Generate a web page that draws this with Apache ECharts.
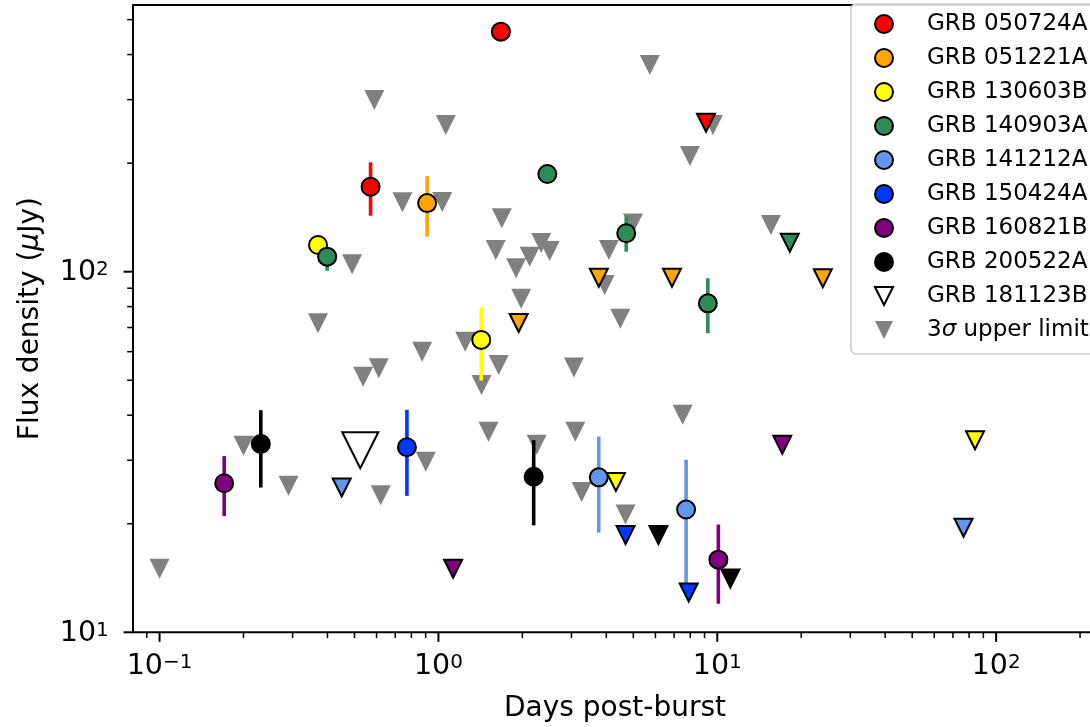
<!DOCTYPE html>
<html>
<head>
<meta charset="utf-8">
<script src="https://cdn.jsdelivr.net/npm/echarts@6/dist/echarts.min.js"></script>
<style>
html, body { margin: 0; padding: 0; background: #ffffff; }
#chart { width: 1090px; height: 727px; }
</style>
</head>
<body>
<div id="chart"></div>
<script>
// ---------- axis ranges, ticks and tick labels ----------
const X_MIN = 0.0803, X_MAX = 230;
const Y_MIN = 10, Y_MAX = 549;
const xMajorTicks = [0.1, 1, 10, 100];
const xTickLabelBase = ['10', '10', '10', '10'];
const xTickLabelExp  = ['\u22121', '0', '1', '2'];
const xMinorTicks = [0.09, 0.2, 0.3, 0.4, 0.5, 0.6, 0.7, 0.8, 0.9,
                     2, 3, 4, 5, 6, 7, 8, 9,
                     20, 30, 40, 50, 60, 70, 80, 90, 200];
const yMajorTicks = [10, 100];
const yTickLabelBase = ['10', '10'];
const yTickLabelExp  = ['1', '2'];
const yMinorTicks = [20, 30, 40, 50, 60, 70, 80, 90, 200, 300, 400, 500];

// ---------- data: detections [days, flux, fluxLow, fluxHigh], upper limits [days, flux] ----------
const GRB_050724A_det = [[1.675, 463, null, null], [0.571, 172, 143, 201]];
const GRB_050724A_ul  = [[9.11, 259]];

const GRB_051221A_det = [[0.911, 155, 125, 184]];
const GRB_051221A_ul  = [[1.94, 72.1], [3.76, 96.2], [6.88, 96.2], [23.9, 95.9]];

const GRB_130603B_det = [[0.370, 118.6, 112, 125.6], [1.424, 64.7, 49.9, 79.6]];
const GRB_130603B_ul  = [[4.33, 26.1], [84.0, 34.1]];

const GRB_140903A_det = [[0.399, 110.1, 100.6, 114.9], [2.458, 186.6, null, null],
                         [4.715, 127.8, 113.6, 142.1], [9.25, 81.7, 67.5, 95.9]];
const GRB_140903A_ul  = [[18.2, 120.3]];

const GRB_141212A_det = [[3.758, 26.9, 18.9, 34.9], [7.73, 21.9, 13.3, 30.1]];
const GRB_141212A_ul  = [[0.450, 25.2], [76.4, 19.5]];

const GRB_150424A_det = [[0.771, 32.6, 23.9, 41.4]];
const GRB_150424A_ul  = [[4.69, 18.6], [7.90, 12.9]];

const GRB_160821B_det = [[0.1705, 25.9, 21.0, 30.8], [10.09, 15.9, 12.0, 19.9]];
const GRB_160821B_ul  = [[1.129, 15.0], [17.1, 33.1]];

const GRB_200522A_det = [[0.2307, 33.3, 25.2, 41.3], [2.196, 27.0, 19.8, 34.1]];
const GRB_200522A_ul  = [[6.15, 18.6], [11.14, 14.1]];

const GRB_181123B_ul  = [[0.5245, 32.0]];

const upperLimits3sigma = [
  [0.100, 15.0], [0.200, 32.9], [0.290, 25.5], [0.370, 71.9], [0.490, 104.8],
  [0.537, 51.1], [0.611, 54.0], [0.589, 299.4], [0.621, 24.0], [0.743, 155.8],
  [0.901, 29.7], [0.874, 60.0], [1.032, 156.1], [1.063, 255.2], [1.247, 63.9],
  [1.427, 48.5], [1.512, 36.0], [1.605, 114.9], [1.645, 55.1], [1.688, 140.6],
  [1.900, 102.2], [1.981, 84.2], [2.125, 110.1], [2.336, 120.1], [2.505, 114.1],
  [2.250, 33.1], [3.062, 54.2], [3.097, 36.0], [3.262, 24.5], [3.944, 91.9],
  [4.086, 114.9], [4.491, 74.1], [4.688, 21.2], [4.987, 136.0], [5.728, 374.3],
  [7.51, 40.1], [7.98, 209.4], [9.65, 255.2], [15.57, 134.8]
];

const legendNames = ['GRB 050724A', 'GRB 051221A', 'GRB 130603B', 'GRB 140903A',
  'GRB 141212A', 'GRB 150424A', 'GRB 160821B', 'GRB 200522A', 'GRB 181123B', '3σ upper limit'];

// ---------- styling ----------
const FONT = 'DejaVu Sans';
const TRI_DOWN = 'path://M0,0L10,0L5,10Z';
const grbs = [
  { name: 'GRB 050724A', color: '#ff0000', det: GRB_050724A_det, ul: GRB_050724A_ul },
  { name: 'GRB 051221A', color: '#ffa500', det: GRB_051221A_det, ul: GRB_051221A_ul },
  { name: 'GRB 130603B', color: '#ffff00', det: GRB_130603B_det, ul: GRB_130603B_ul },
  { name: 'GRB 140903A', color: '#2e8b57', det: GRB_140903A_det, ul: GRB_140903A_ul },
  { name: 'GRB 141212A', color: '#6495ed', det: GRB_141212A_det, ul: GRB_141212A_ul },
  { name: 'GRB 150424A', color: '#0038ff', det: GRB_150424A_det, ul: GRB_150424A_ul },
  { name: 'GRB 160821B', color: '#800080', det: GRB_160821B_det, ul: GRB_160821B_ul },
  { name: 'GRB 200522A', color: '#000000', det: GRB_200522A_det, ul: GRB_200522A_ul }
];

const BASE_FS = 28.5, SUP_FS = 20;
const BASE_FONT = BASE_FS + 'px "DejaVu Sans"';
const SUP_FONT = SUP_FS + 'px "DejaVu Sans"';
const measureCtx = document.createElement('canvas').getContext('2d');
function textWidth(t, font) { measureCtx.font = font; return measureCtx.measureText(t).width; }

function txt(x, y, text, font, align) {
  return {
    type: 'text', x: x, y: y, silent: true,
    style: { text: text, font: font, fill: '#000',
             align: align, verticalAlign: 'middle',
             textAlign: align, textVerticalAlign: 'middle' }
  };
}

const series = [];

// gray 3-sigma upper limits (drawn first / lowest)
series.push({
  name: '3σ upper limit', type: 'scatter', z: 1,
  symbol: TRI_DOWN, symbolSize: 20,
  itemStyle: { color: '#808080', opacity: 1 },
  data: upperLimits3sigma
});

// error bars
grbs.forEach(g => {
  const withErr = g.det.filter(d => d[2] !== null);
  series.push({
    type: 'custom', z: 2, silent: true, clip: false,
    data: withErr,
    encode: { x: 0, y: 1 },
    renderItem: (params, api) => {
      const x = api.value(0);
      const p1 = api.coord([x, api.value(2)]);
      const p2 = api.coord([x, api.value(3)]);
      return { type: 'line', shape: { x1: p1[0], y1: p1[1], x2: p2[0], y2: p2[1] },
               style: { stroke: g.color, lineWidth: 3.6 } };
    }
  });
});

// detections (circles) and colored upper limits (triangles)
grbs.forEach(g => {
  series.push({
    name: g.name, type: 'scatter', z: 3,
    symbol: 'circle', symbolSize: 18,
    itemStyle: { color: g.color, borderColor: '#000', borderWidth: 2, opacity: 1 },
    data: g.det.map(d => [d[0], d[1]])
  });
});
grbs.forEach(g => {
  series.push({
    name: g.name, type: 'scatter', z: 3,
    symbol: TRI_DOWN, symbolSize: 18,
    itemStyle: { color: g.color, borderColor: '#000', borderWidth: 2, opacity: 1 },
    data: g.ul
  });
});
series.push({
  name: 'GRB 181123B', type: 'scatter', z: 3,
  symbol: TRI_DOWN, symbolSize: 36,
  itemStyle: { color: '#ffffff', borderColor: '#000', borderWidth: 2, opacity: 1 },
  data: GRB_181123B_ul
});

// axis ticks (major + minor) drawn through the axes' scales
const tickData = [].concat(
  xMajorTicks.map(v => [v, Y_MIN, 0]),
  xMinorTicks.map(v => [v, Y_MIN, 1]),
  yMajorTicks.map(v => [X_MIN, v, 2]),
  yMinorTicks.map(v => [X_MIN, v, 3])
);
series.push({
  type: 'custom', z: 10, silent: true, clip: false,
  data: tickData, encode: { x: 0, y: 1 },
  renderItem: (params, api) => {
    const kind = api.value(2);
    const p = api.coord([api.value(0), api.value(1)]);
    const major = (kind === 0 || kind === 2);
    const len = major ? 9.5 : 5.8;
    const lw = major ? 2 : 1.5;
    if (kind < 2) {
      return { type: 'line', shape: { x1: p[0], y1: p[1], x2: p[0], y2: p[1] + len },
               style: { stroke: '#000', lineWidth: lw } };
    }
    return { type: 'line', shape: { x1: p[0], y1: p[1], x2: p[0] - len, y2: p[1] },
             style: { stroke: '#000', lineWidth: lw } };
  }
});

// tick labels (10 with superscript exponent), placed at the axes' tick positions
const labelData = [].concat(
  xMajorTicks.map((v, i) => [v, Y_MIN, 0, i]),
  yMajorTicks.map((v, i) => [X_MIN, v, 1, i])
);
series.push({
  type: 'custom', z: 10, silent: true, clip: false,
  data: labelData, encode: { x: 0, y: 1 },
  renderItem: (params, api) => {
    const kind = api.value(2), idx = api.value(3);
    const p = api.coord([api.value(0), api.value(1)]);
    const base = kind === 0 ? xTickLabelBase[idx] : yTickLabelBase[idx];
    const sup = kind === 0 ? xTickLabelExp[idx] : yTickLabelExp[idx];
    const wb = textWidth(base, BASE_FONT), ws = textWidth(sup, SUP_FONT);
    if (kind === 0) {
      const x0 = p[0] - (wb + ws) / 2;
      return { type: 'group', children: [
        txt(x0, p[1] + 34, base, BASE_FONT, 'left'),
        txt(x0 + wb, p[1] + 30.8, sup, SUP_FONT, 'left')
      ] };
    }
    const right = p[0] - 24.2;
    return { type: 'group', children: [
      txt(right - ws, p[1] + 1.2, base, BASE_FONT, 'right'),
      txt(right - ws, p[1] - 1.9, sup, SUP_FONT, 'left')
    ] };
  }
});

const chart = echarts.init(document.getElementById('chart'), null, { renderer: 'canvas' });
chart.setOption({
  animation: false,
  backgroundColor: '#ffffff',
  textStyle: { fontFamily: FONT },
  grid: {
    left: 133, top: 5, right: -7, bottom: 94.7,
    show: true, borderColor: '#000', borderWidth: 2, backgroundColor: 'transparent',
    containLabel: false, outerBoundsMode: 'none'
  },
  xAxis: {
    type: 'log', logBase: 10, min: X_MIN, max: X_MAX,
    name: 'Days post-burst', nameLocation: 'middle', nameGap: 62, nameMoveOverlap: false,
    nameTextStyle: { fontSize: 28, fontFamily: FONT, color: '#000' },
    axisLine: { show: false }, axisTick: { show: false }, splitLine: { show: false },
    minorTick: { show: false }, axisLabel: { show: false }
  },
  yAxis: {
    type: 'log', logBase: 10, min: Y_MIN, max: Y_MAX,
    name: 'Flux density ({i|μ}Jy)', nameLocation: 'middle', nameGap: 88, nameMoveOverlap: false,
    nameTextStyle: { fontSize: 28, fontFamily: FONT, color: '#000',
      rich: { i: { fontSize: 28, fontFamily: FONT, fontStyle: 'italic', color: '#000' } } },
    axisLine: { show: false }, axisTick: { show: false }, splitLine: { show: false },
    minorTick: { show: false }, axisLabel: { show: false }
  },
  legend: {
    data: legendNames,
    orient: 'vertical', left: 851, top: 4,
    padding: [8, 24, 12, 23],
    itemWidth: 18, itemHeight: 18, itemGap: 10,
    backgroundColor: 'rgba(255,255,255,0.85)',
    borderColor: '#cccccc', borderWidth: 1.5, borderRadius: 5,
    selectedMode: false,
    formatter: name => name === '3σ upper limit' ? '3{i|σ} upper limit' : name,
    textStyle: { fontSize: 23, fontFamily: FONT, color: '#000', lineHeight: 24, padding: [0, 0, 0, 29],
      rich: { i: { fontSize: 23, fontFamily: FONT, fontStyle: 'italic', color: '#000', lineHeight: 24 } } }
  },
  series: series
});
</script>
</body>
</html>
